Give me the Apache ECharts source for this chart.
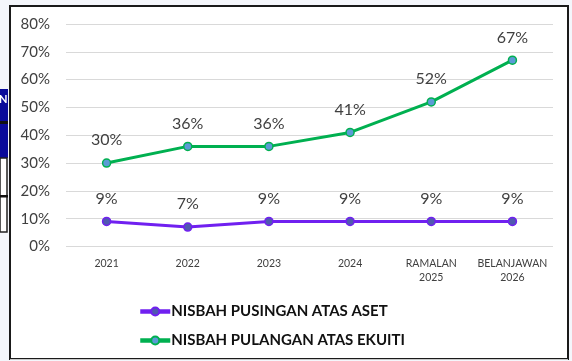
<!DOCTYPE html>
<html>
<head>
<meta charset="utf-8">
<script src="https://cdn.jsdelivr.net/npm/echarts@6/dist/echarts.min.js"></script>
<style>
  html, body { margin: 0; padding: 0; background: #f4f6fb; }
  #chart { width: 572px; height: 361px; }
</style>
</head>
<body>
<div id="chart"></div>
<script>
// Years on the category axis (two-line labels for forecast / budget)
const categories = ['2021', '2022', '2023', '2024', 'RAMALAN\n2025', 'BELANJAWAN\n2026'];

// Ratio values in percent
const asetTurnover = [9, 7, 9, 9, 9, 9];
const equityReturn = [30, 36, 36, 41, 52, 67];

const seriesNames = ['NISBAH PUSINGAN ATAS ASET', 'NISBAH PULANGAN ATAS EKUITI'];

const labelFont = 'Lato, "Open Sans", sans-serif';

const chart = echarts.init(document.getElementById('chart'));

chart.setOption({
  backgroundColor: '#f4f6fb',
  animation: false,
  graphic: [
    // framed white panel
    { type: 'rect', z: -10, shape: { x: 10, y: 6, width: 558, height: 353 },
      style: { fill: '#ffffff', stroke: '#1a1a1a', lineWidth: 2 } },
    { type: 'line', z: -9, shape: { x1: 10, y1: 359.5, x2: 568, y2: 359.5 },
      style: { stroke: '#c8c8c8', lineWidth: 1 } },
    // table fragments on the left edge
    { type: 'rect', z: -9, shape: { x: 0, y: 89, width: 8, height: 69 },
      style: { fill: '#0a0a9a' } },
    { type: 'rect', z: -9, shape: { x: 0, y: 121, width: 8, height: 3 },
      style: { fill: '#111111' } },
    { type: 'text', z: -8, left: -1, top: 94,
      style: { text: 'N', fill: '#ffffff', font: 'bold 11px ' + labelFont } },
    { type: 'rect', z: -9, shape: { x: 0, y: 158, width: 7, height: 74 },
      style: { fill: '#ffffff', stroke: '#222222', lineWidth: 1.5 } },
    { type: 'rect', z: -9, shape: { x: 0, y: 195, width: 8, height: 2.5 },
      style: { fill: '#111111' } }
  ],
  grid: { left: 66, right: 19, top: 24, bottom: 114.5, containLabel: false },
  legend: {
    orient: 'vertical',
    left: 133,
    top: 299,
    itemGap: 14,
    itemWidth: 30,
    itemHeight: 10,
    lineStyle: { width: 4.5 },
    textStyle: { fontFamily: labelFont, fontWeight: 'bold', fontSize: 15, color: '#111111', padding: [0, 0, 0, -4] },
    data: seriesNames
  },
  xAxis: {
    type: 'category',
    data: categories,
    axisLine: { show: false },
    axisTick: { show: false },
    axisLabel: { interval: 0, fontFamily: labelFont, fontSize: 10.5, color: '#404040', margin: 10, lineHeight: 14 }
  },
  yAxis: {
    type: 'value',
    min: 0,
    max: 80,
    interval: 10,
    axisLine: { show: false },
    axisTick: { show: false },
    axisLabel: { formatter: '{value}%', fontFamily: labelFont, fontSize: 15, color: '#404040', margin: 16 },
    splitLine: { lineStyle: { color: '#d9d9d9', width: 1 } }
  },
  series: [
    {
      name: seriesNames[0],
      type: 'line',
      data: asetTurnover,
      symbol: 'circle',
      symbolSize: 8,
      lineStyle: { color: '#7020f0', width: 3 },
      itemStyle: { color: '#5058b0', borderColor: '#7020f0', borderWidth: 1.5 },
      label: { show: true, position: 'top', distance: 10, formatter: '{c}%',
        fontFamily: labelFont, fontSize: 16, color: '#404040' }
    },
    {
      name: seriesNames[1],
      type: 'line',
      data: equityReturn,
      symbol: 'circle',
      symbolSize: 8,
      lineStyle: { color: '#00b050', width: 3 },
      itemStyle: { color: '#5b9bd5', borderColor: '#00b050', borderWidth: 1.5 },
      label: { show: true, position: 'top', distance: 10, formatter: '{c}%',
        fontFamily: labelFont, fontSize: 16, color: '#404040' }
    }
  ]
});
</script>
</body>
</html>
